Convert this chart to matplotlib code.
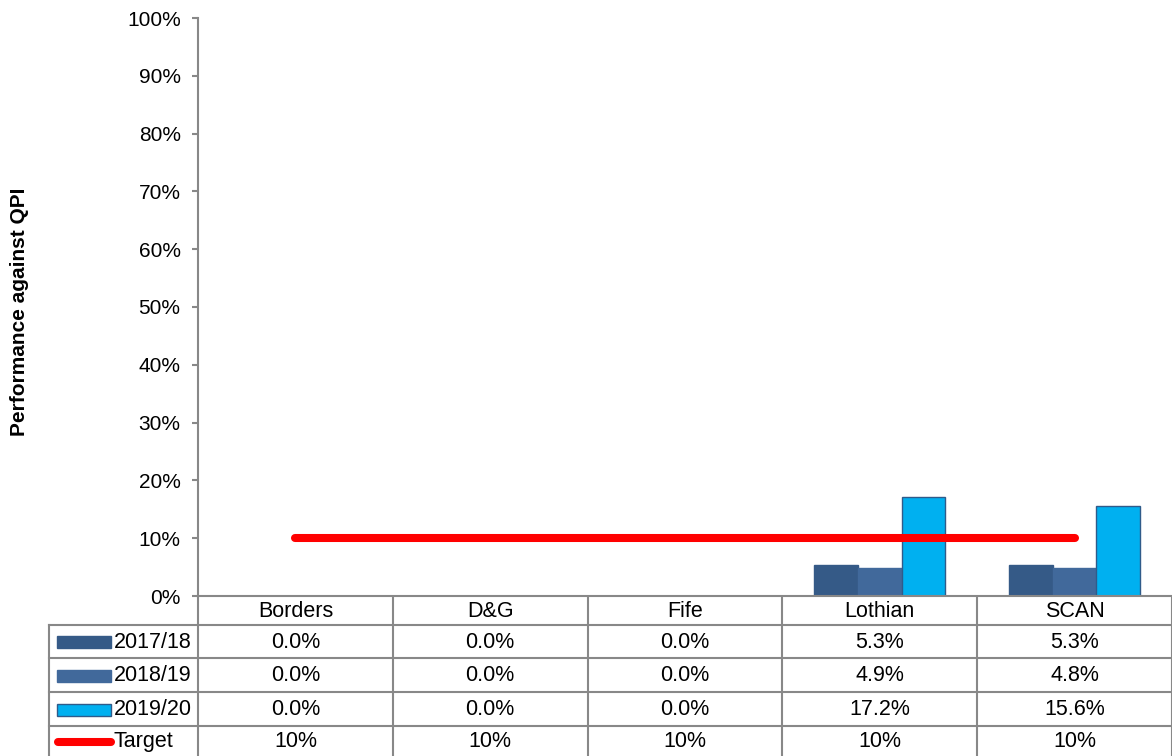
import matplotlib
matplotlib.use('Agg')
import matplotlib.pyplot as plt
import numpy as np

plt.rcParams['font.family'] = ['Liberation Sans', 'DejaVu Sans']

regions = ['Borders', 'D&G', 'Fife', 'Lothian', 'SCAN']
years = ['2017/18', '2018/19', '2019/20']
v1718 = [0.0, 0.0, 0.0, 5.3, 5.3]
v1819 = [0.0, 0.0, 0.0, 4.9, 4.8]
v1920 = [0.0, 0.0, 0.0, 17.2, 15.6]
target = [10, 10, 10, 10, 10]

colors = ['#355a87', '#41699b', '#00b0f0']
edges = ['#355a87', '#41699b', '#2f5b8a']
grey = '#888888'

W, H = 1172, 756
fig = plt.figure(figsize=(W / 100, H / 100), dpi=100)

# main chart area in pixel terms
ax_l, ax_r, ax_t, ax_b = 198, 1172, 18, 596
ax = fig.add_axes([ax_l / W, 1 - ax_b / H, (ax_r - ax_l) / W, (ax_b - ax_t) / H])

x = np.arange(len(regions))
bw = 0.224
series = [v1718, v1819, v1920]
for i, vals in enumerate(series):
    ax.bar(x + (i - 1) * bw, vals, bw, color=colors[i], edgecolor=edges[i], linewidth=1)
ax.plot(x, target, color='red', linewidth=5.8, solid_capstyle='round')

ax.set_xlim(-0.5, len(regions) - 0.5)
ax.set_ylim(0, 100)
ax.set_yticks(np.arange(0, 101, 10))
ax.set_yticklabels(['%d%%' % t for t in range(0, 101, 10)], fontsize=15)
ax.set_xticks([])
for s in ['top', 'right']:
    ax.spines[s].set_visible(False)
for s in ['left', 'bottom']:
    ax.spines[s].set_color(grey)
    ax.spines[s].set_linewidth(1.5)
ax.tick_params(axis='y', length=4, width=1.5, color=grey, pad=8.5)
fig.text(20 / W, 1 - 312 / H, 'Performance against QPI', rotation=90, fontsize=15,
         fontweight='bold', ha='center', va='center')

# data table below the chart, drawn in pixel coords
tax = fig.add_axes([0, 0, 1, (H - ax_b) / H])
tax.set_xlim(0, W)
tax.set_ylim(H, ax_b)
tax.axis('off')

colw = (ax_r - ax_l) / len(regions)
row_edges = [596, 625, 658, 692, 726, 762]
lw = 1.5
for k in range(len(regions) + 1):
    tax.plot([ax_l + k * colw] * 2, [596, 762], color=grey, lw=lw)
tax.plot([49, 49], [row_edges[1], 762], color=grey, lw=lw)
for yy in row_edges[1:-1]:
    tax.plot([49, W], [yy, yy], color=grey, lw=lw)

fs = 15.5
for k, r in enumerate(regions):
    tax.text(ax_l + (k + 0.5) * colw, (row_edges[0] + row_edges[1]) / 2 + 1.5, r,
             ha='center', va='center', fontsize=fs)

rows = [(years[i], ['%.1f%%' % v for v in series[i]]) for i in range(3)]
rows.append(('Target', ['%d%%' % v for v in target]))
for j, (lab, cells) in enumerate(rows):
    yc = (row_edges[j + 1] + row_edges[j + 2]) / 2 + 1
    if j == 3:
        yc = 742
    if j < 3:
        tax.add_patch(plt.Rectangle((57, yc - 6), 54, 12, facecolor=colors[j],
                                    edgecolor=edges[j], lw=1))
    else:
        tax.plot([58, 111], [yc, yc], color='red', lw=5.8, solid_capstyle='round')
    tax.text(114, yc, lab, ha='left', va='center', fontsize=fs)
    for k, c in enumerate(cells):
        tax.text(ax_l + (k + 0.5) * colw, yc, c, ha='center', va='center', fontsize=fs)

fig.savefig('out.png', dpi=100)
